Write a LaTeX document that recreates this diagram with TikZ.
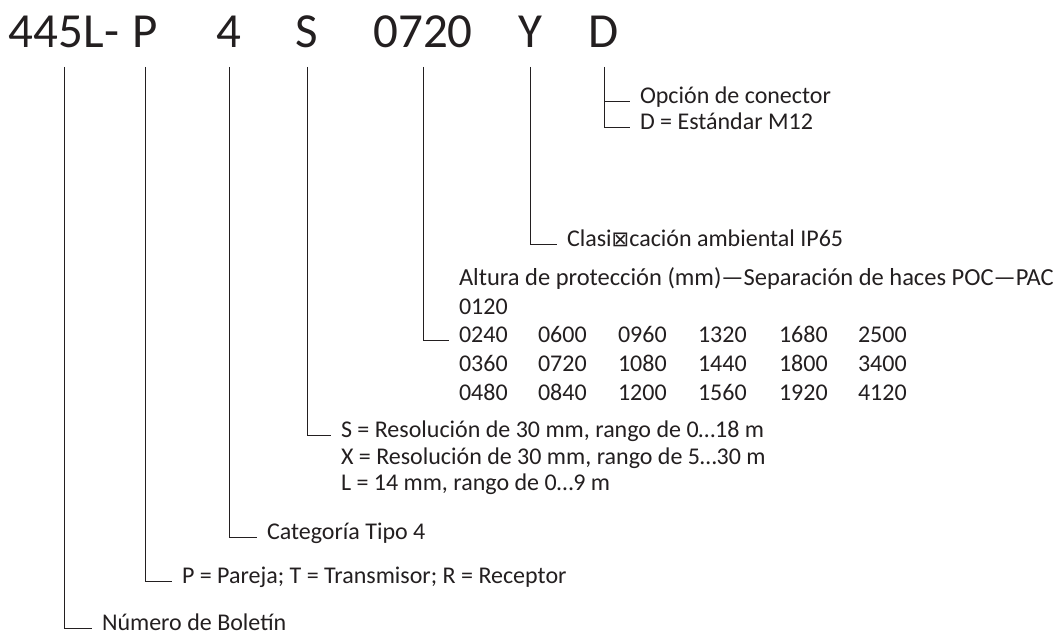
\documentclass[tikz,border=0pt]{standalone}
\usepackage{fontspec}
\setmainfont{Carlito}
\newfontfamily\symfont{DejaVu Sans}
\definecolor{ink}{HTML}{231F20}
\begin{document}
\begin{tikzpicture}[x=1pt,y=-1pt,
  every node/.style={inner sep=0pt, outer sep=0pt, text=ink},
  lbl/.style={anchor=mid west, font=\fontsize{24}{29}\selectfont},
  hdr/.style={anchor=base, font=\fontsize{49}{56}\selectfont},
  conn/.style={draw=ink, line width=1pt}]
\useasboundingbox[fill=white] (0,0) rectangle (1063,642);
% header
\node[hdr] (h1) at (64,48) {445L-};
\node[hdr] (h2) at (145,48) {P};
\node[hdr] (h3) at (229,48) {4};
\node[hdr] (h4) at (307,48) {S};
\node[hdr] (h5) at (423,48) {0720};
\node[hdr] (h6) at (530,48) {Y};
\node[hdr] (h7) at (604,48) {D};
% labels
\node[lbl] (n1) at (102,628) {Número de Boletín};
\node[lbl] (n2) at (182,581) {P = Pareja; T = Transmisor; R = Receptor};
\node[lbl] (n3) at (267,537) {Categoría Tipo 4};
\node[lbl] (s1) at (341,435) {S = Resolución de 30 mm, rango de 0…18 m};
\node[lbl] (s2) at (341,462) {X = Resolución de 30 mm, rango de 5…30 m};
\node[lbl] (s3) at (341,488) {L = 14 mm, rango de 0…9 m};
\node[lbl, font=\fontsize{24.5}{29}\selectfont] (th) at (459,283) {Altura de protección (mm)—Separación de haces POC—PAC};
\node[lbl] (t0) at (459,312) {0120};
\node[lbl] (t11) at (459,340) {0240};
\node[lbl] (t12) at (538,340) {0600};
\node[lbl] (t13) at (618,340) {0960};
\node[lbl] (t14) at (698,340) {1320};
\node[lbl] (t15) at (779,340) {1680};
\node[lbl] (t16) at (858,340) {2500};
\node[lbl] (t21) at (459,369) {0360};
\node[lbl] (t22) at (538,369) {0720};
\node[lbl] (t23) at (618,369) {1080};
\node[lbl] (t24) at (698,369) {1440};
\node[lbl] (t25) at (779,369) {1800};
\node[lbl] (t26) at (858,369) {3400};
\node[lbl] (t31) at (459,398) {0480};
\node[lbl] (t32) at (538,398) {0840};
\node[lbl] (t33) at (618,398) {1200};
\node[lbl] (t34) at (698,398) {1560};
\node[lbl] (t35) at (779,398) {1920};
\node[lbl] (t36) at (858,398) {4120};
\node[lbl] (c1) at (567,244) {Clasi{\symfont\fontsize{21}{21}\selectfont ⊠}cación ambiental IP65};
\node[lbl] (d1) at (640,101) {Opción de conector};
\node[lbl] (d2) at (640,127) {D = Estándar M12};
% connectors
\draw[conn] ([yshift=-19pt]h1.base) |- ([xshift=-10pt]n1.mid west);
\draw[conn] ([yshift=-19pt]h2.base) |- ([xshift=-10pt]n2.mid west);
\draw[conn] ([yshift=-19pt]h3.base) |- ([xshift=-10pt]n3.mid west);
\draw[conn] ([yshift=-19pt]h4.base) |- ([xshift=-10pt]s1.mid west);
\draw[conn] ([yshift=-19pt]h5.base) |- ([xshift=-10pt]t11.mid west);
\draw[conn] ([yshift=-19pt]h6.base) |- ([xshift=-10pt]c1.mid west);
\draw[conn] ([yshift=-19pt]h7.base) |- ([xshift=-10pt]d2.mid west);
\draw[conn] (h7.base |- d1.mid west) -- ([xshift=-10pt]d1.mid west);
\end{tikzpicture}
\end{document}
